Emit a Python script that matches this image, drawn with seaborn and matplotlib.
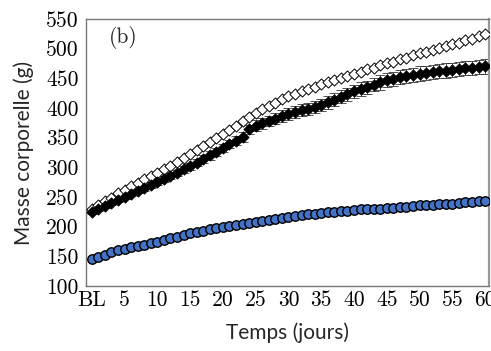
import matplotlib
matplotlib.use("Agg")
import matplotlib.pyplot as plt
import seaborn as sns
import pandas as pd

# days from baseline (BL = 0) to 60
days = list(range(61))

# open diamonds
open_mass = [230, 236, 243, 249, 256, 262, 268, 274, 280, 285,
             291, 297, 303, 309, 316, 322, 329, 336, 342, 349,
             356, 363, 370, 378, 385, 392, 398, 404, 409, 415,
             420, 424, 428, 432, 436, 440, 444, 447, 451, 454,
             458, 461, 465, 468, 472, 475, 478, 482, 485, 489,
             492, 495, 498, 501, 504, 507, 510, 514, 517, 521, 524]

# filled diamonds (with error bars)
filled_mass = [225, 230, 235, 240, 245, 250, 255, 260, 265, 270,
               275, 280, 286, 291, 297, 302, 308, 314, 320, 326,
               333, 339, 345, 351, 364, 370, 374, 378, 382, 386,
               390, 393, 396, 399, 402, 405, 410, 414, 419, 423,
               428, 432, 435, 439, 443, 447, 449, 452, 454, 456,
               458, 459, 461, 462, 463, 464, 466, 467, 468, 469, 470]
filled_err = [3, 3, 3, 4, 4, 4, 4, 4, 5, 5,
              5, 5, 5, 5, 6, 6, 6, 6, 7, 7,
              7, 7, 8, 8, 8, 9, 9, 9, 9, 10,
              10, 10, 10, 10, 10, 10, 11, 11, 11, 11,
              11, 11, 11, 11, 12, 12, 12, 12, 12, 12,
              12, 12, 12, 12, 12, 12, 12, 12, 12, 12, 12]

# blue circles
blue_mass = [145, 149, 153, 157, 160, 163, 165, 168, 170, 173,
             175, 178, 181, 183, 186, 189, 191, 193, 196, 198,
             200, 202, 203, 205, 206, 208, 210, 212, 213, 215,
             217, 218, 219, 221, 222, 223, 224, 225, 226, 227,
             228, 229, 229, 230, 230, 231, 232, 233, 234, 235,
             236, 236, 237, 238, 238, 239, 240, 241, 242, 243, 244]

xtick_pos = [0, 5, 10, 15, 20, 25, 30, 35, 40, 45, 50, 55, 60]
xtick_labels = ["BL", "5", "10", "15", "20", "25", "30", "35", "40", "45", "50", "55", "60"]
ytick_pos = [100, 150, 200, 250, 300, 350, 400, 450, 500, 550]

df = pd.DataFrame({"day": days, "open": open_mass, "filled": filled_mass,
                   "err": filled_err, "blue": blue_mass})

sns.set_style("white")
plt.rcParams["font.family"] = ["Lato", "DejaVu Sans"]

fig = plt.figure(figsize=(4.91, 3.51), dpi=100)
ax = fig.add_axes([0.175, 0.185, 0.821, 0.761])

ax.errorbar(df["day"], df["filled"], yerr=df["err"], fmt="none",
            ecolor="#333333", elinewidth=0.6, capsize=3.5, capthick=0.6, zorder=2)
sns.scatterplot(data=df, x="day", y="open", marker="D", s=32, color="white",
                edgecolor="black", linewidth=0.7, ax=ax, zorder=3)
sns.scatterplot(data=df, x="day", y="filled", marker="D", s=32, color="black",
                edgecolor="black", linewidth=0.7, ax=ax, zorder=4)
sns.scatterplot(data=df, x="day", y="blue", marker="o", s=46, color="#4472C4",
                edgecolor="black", linewidth=1.0, ax=ax, zorder=5)

ax.set_xlim(-0.9, 60.6)
ax.set_ylim(100, 550)
ax.set_xticks(xtick_pos)
ax.set_xticklabels(xtick_labels)
ax.set_yticks(ytick_pos)

for lab in ax.get_xticklabels() + ax.get_yticklabels():
    lab.set_fontfamily("cmr10")
    lab.set_fontsize(15.5)
    lab.set_color("black")

ax.tick_params(axis="both", direction="in", length=11.5, width=0.8,
               color="#888888", pad=5)
ax.tick_params(axis="x", pad=3)
for sp in ax.spines.values():
    sp.set_color("#777777")
    sp.set_linewidth(1.0)
ax.spines["right"].set_linewidth(1.6)
ax.spines["right"].set_color("#999999")

ax.set_xlabel("Temps (jours)", fontsize=15, labelpad=9)
ax.set_ylabel("Masse corporelle (g)", fontsize=15, labelpad=9)

ax.text(2.6, 518, "(b)", fontfamily="cmr10", fontsize=15.5, va="center", ha="left")

fig.savefig("out.png", dpi=100)
